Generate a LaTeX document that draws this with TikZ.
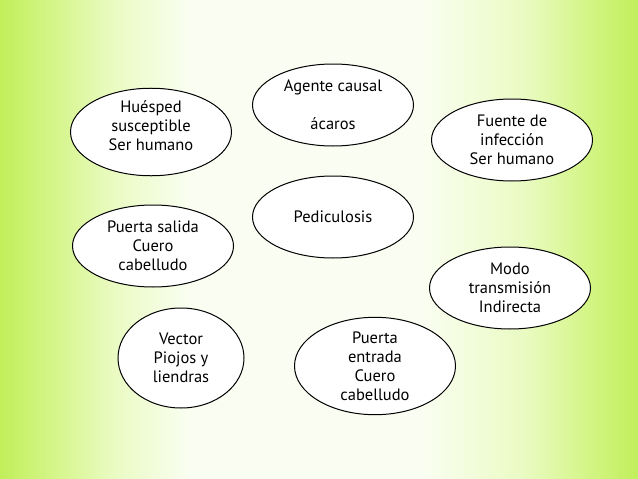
\documentclass[tikz,border=0pt]{standalone}
\usepackage{fontspec}
\setmainfont{PT Sans}
\usetikzlibrary{shapes.geometric}

\definecolor{groen}{RGB}{193,239,90}
\definecolor{halfgroen}{RGB}{212,245,135}
\definecolor{licht}{RGB}{234,251,195}
\definecolor{wit}{RGB}{250,254,242}
\pgfdeclarehorizontalshading{achtergrond}{100bp}{color(0bp)=(groen); color(25bp)=(groen); color(29bp)=(halfgroen); color(34bp)=(licht); color(40bp)=(wit); color(58bp)=(wit); color(66bp)=(licht); color(71bp)=(halfgroen); color(75bp)=(groen); color(100bp)=(groen)}

\begin{document}
\begin{tikzpicture}[x=1pt, y=-1pt,
    every node/.style={font=\fontsize{16.5}{19}\selectfont, align=center},
    bol/.style={ellipse, draw, line width=1pt, fill=white, inner sep=0pt,
      minimum width=161pt, minimum height=82pt}]
  \def\breed{638} % breedte
  \def\hoog{479}  % hoogte

  % achtergrond
  \useasboundingbox (0,0) rectangle (\breed,\hoog);
  \shade[shading=achtergrond] (0,0) rectangle (\breed,\hoog);

  % de ellipsen
  \node[bol] (huesped) at (151,132) {Huésped\\susceptible\\Ser humano\\[-7pt]};
  \node[bol] (agente) at (333,105) {Agente causal\\[19pt]ácaros};
  \node[bol] (fuente) at (512,140) {Fuente de\\infección\\Ser humano};
  \node[bol] (pedic) at (333,217) {Pediculosis};
  \node[bol] (salida) at (153,246) {Puerta salida\\Cuero\\cabelludo};
  \node[bol] (modo) at (510,288) {Modo\\transmisión\\Indirecta};
  \node[bol, minimum width=126pt, minimum height=100pt] (vector) at (181,358)
    {Vector\\Piojos y\\liendras};
  \node[bol] (entrada) at (375,366) {Puerta\\entrada\\Cuero\\cabelludo};
\end{tikzpicture}
\end{document}
